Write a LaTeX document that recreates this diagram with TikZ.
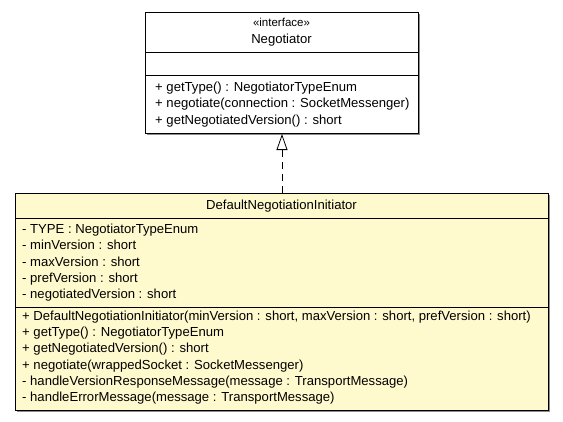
\documentclass[tikz,border=0pt]{standalone}
\usepackage{fontspec}
\setmainfont{Liberation Sans}
\usetikzlibrary{positioning}
\usetikzlibrary{arrows.meta,shadows}
\definecolor{classfill}{RGB}{255,249,206}
\definecolor{shadowgray}{RGB}{140,140,140}

\begin{document}
\begin{tikzpicture}[x=1pt,y=-1pt,
			umlbox/.style = {
				draw, line width=1pt, anchor=north west, inner sep=0pt,
				drop shadow={shadow xshift=1.5pt, shadow yshift=-1.5pt, fill=shadowgray, opacity=1}
			},
			member/.style = {anchor=base west, inner sep=0pt, font=\fontsize{13.1}{15}\selectfont},
			title/.style = {anchor=base, inner sep=0pt, font=\fontsize{13.1}{15}\selectfont},
			realize/.style = {line width=0.8pt, dash pattern=on 7pt off 5pt,
				-{Triangle[open, length=16pt, width=11pt, line width=0.8pt]}}]
			\useasboundingbox (0,0) rectangle (563,421);
			\node (negotiator) [umlbox, fill=white, minimum width=273pt, minimum height=121pt] at (145,12) {};
			\node (initiator) [umlbox, fill=classfill, minimum width=533pt, minimum height=217pt] at (15,193) {};
			\draw [line width=1pt] (negotiator.west |- 0,52) -- (negotiator.east |- 0,52)
			(negotiator.west |- 0,75) -- (negotiator.east |- 0,75);
			\draw [line width=1pt] (initiator.west |- 0,218) -- (initiator.east |- 0,218)
			(initiator.west |- 0,307) -- (initiator.east |- 0,307);
			\node (stereo) [title, font=\fontsize{11.5}{13}\selectfont] at (281.5,26.5) {«interface»};
			\node (negname) [title] at (281.5,43.5) {Negotiator};
			\node (negop1) [member] at (155,91.5) {+ getType() : NegotiatorTypeEnum};
			\node (negop2) [member] at (155,107.5) {+ negotiate(connection : SocketMessenger)};
			\node (negop3) [member] at (155,124) {+ getNegotiatedVersion() : short};
			\node (ininame) [title] at (281.5,209) {DefaultNegotiationInitiator};
			\node (attr1) [member] at (22,233.5) {- TYPE : NegotiatorTypeEnum};
			\node (attr2) [member] at (22,249.8) {- minVersion : short};
			\node (attr3) [member] at (22,266.1) {- maxVersion : short};
			\node (attr4) [member] at (22,282.4) {- prefVersion : short};
			\node (attr5) [member] at (22,298.7) {- negotiatedVersion : short};
			\node (op1) [member] at (22,320.5) {+ DefaultNegotiationInitiator(minVersion : short, maxVersion : short, prefVersion : short)};
			\node (op2) [member] at (22,336.7) {+ getType() : NegotiatorTypeEnum};
			\node (op3) [member] at (22,352.9) {+ getNegotiatedVersion() : short};
			\node (op4) [member] at (22,369.1) {+ negotiate(wrappedSocket : SocketMessenger)};
			\node (op5) [member] at (22,385.3) {- handleVersionResponseMessage(message : TransportMessage)};
			\node (op6) [member] at (22,401.5) {- handleErrorMessage(message : TransportMessage)};
			\draw [realize] (initiator.north) -- (negotiator.south);
		\end{tikzpicture}
\end{document}
